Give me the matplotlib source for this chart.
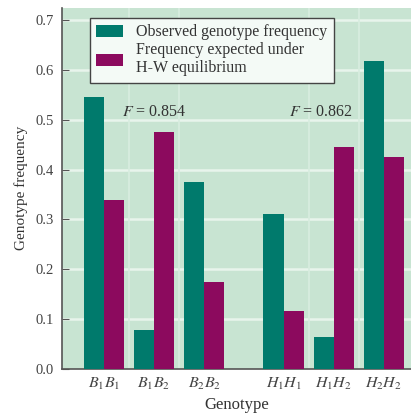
import matplotlib
matplotlib.use("Agg")
import matplotlib.pyplot as plt
import numpy as np

plt.rcParams['font.family'] = ['Liberation Serif', 'DejaVu Serif']
plt.rcParams['mathtext.fontset'] = 'stix'

genotypes = [r'$B_1B_1$', r'$B_1B_2$', r'$B_2B_2$', r'$H_1H_1$', r'$H_1H_2$', r'$H_2H_2$']
positions = [0, 1, 2, 3.58, 4.58, 5.58]
observed = [0.547, 0.077, 0.376, 0.310, 0.064, 0.619]
expected = [0.339, 0.476, 0.173, 0.116, 0.446, 0.426]
f_labels = ['F = 0.854', 'F = 0.862']
f_positions = [1.0, 4.33]
yticks = [0.0, 0.1, 0.2, 0.3, 0.4, 0.5, 0.6, 0.7]

teal = '#007a6c'
magenta = '#8c0a5e'
bg = '#c8e4d2'

fig = plt.figure(figsize=(4.11, 4.17), dpi=100)
ax = fig.add_axes([62/411, 48.5/417, 349/411, 360.5/417])
ax.set_facecolor(bg)

x = np.array(positions)
w = 0.4
ax.bar(x - w/2, observed, width=w, color=teal, label='Observed genotype frequency', zorder=3)
ax.bar(x + w/2, expected, width=w, color=magenta, label='Frequency expected under\nH-W equilibrium', zorder=3)

ax.set_xlim(-0.835, 6.12)
ax.set_ylim(0, 0.725)
ax.set_yticks(yticks)
ax.set_yticklabels([f'{v:.1f}' for v in yticks])
for v in yticks[1:]:
    ax.axhline(v, color='#e8f4ec', lw=1.8, zorder=1)
for xb in [0.5, 1.5, 4.08, 5.08]:
    ax.axvline(xb, color='#d8ede0', lw=1.2, zorder=1)

ax.set_xticks(positions)
ax.set_xticklabels(genotypes, fontsize=11.5, color='#444444')
ax.tick_params(axis='x', length=0, pad=5)
ax.tick_params(axis='y', direction='in', length=5, color='#555555', labelsize=10.5, labelcolor='#444444', pad=6)

for s in ['top', 'right']:
    ax.spines[s].set_visible(False)
for s in ['left', 'bottom']:
    ax.spines[s].set_color('#555555')
    ax.spines[s].set_linewidth(1.2)

ax.set_ylabel('Genotype frequency', fontsize=11, color='#333333', labelpad=5)
ax.set_xlabel('Genotype', fontsize=12, color='#333333', labelpad=4)

for lbl, xp in zip(f_labels, f_positions):
    parts = lbl.split('=')
    ax.text(xp, 0.515, r'$F$ =' + parts[1], ha='center', va='center', fontsize=11.5, color='#333333', zorder=4)

leg = ax.legend(loc='upper left', bbox_to_anchor=(0.08, 0.972), borderaxespad=0,
                fontsize=11.5, frameon=True, fancybox=False, edgecolor='#444444',
                facecolor='#f4faf6', framealpha=1, handlelength=1.7, handleheight=0.8,
                handletextpad=0.8, labelspacing=0.1, borderpad=0.4)
leg.get_frame().set_linewidth(1.0)
for t in leg.get_texts():
    t.set_color('#333333')
leg.set_zorder(5)

fig.savefig('out.png', dpi=100)
